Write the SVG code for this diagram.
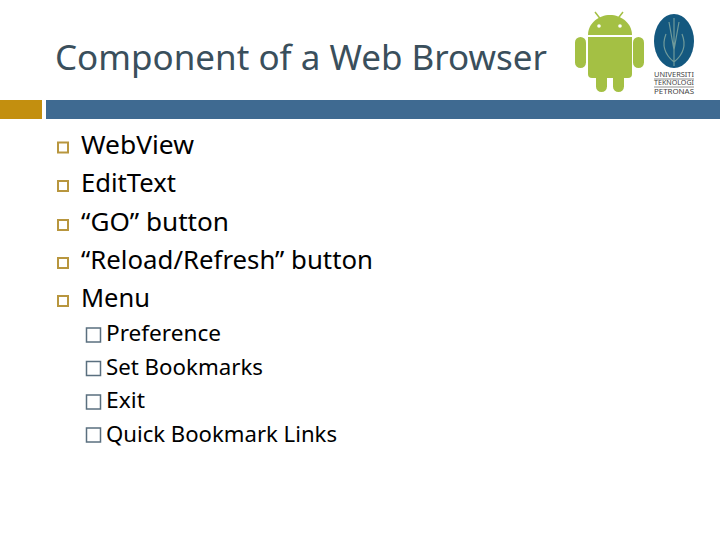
<svg xmlns="http://www.w3.org/2000/svg" width="720" height="540" viewBox="0 0 720 540">
<style>
text{font-family:"Noto Sans","Open Sans","Liberation Sans",sans-serif;fill:#000}
.t{font-size:35px;fill:#3a4f5c}
.a{font-size:26px}
.b{font-size:22px}
.s{font-size:6.2px;fill:#444}
.ba{fill:none;stroke:#b8963e;stroke-width:2}
.bb{fill:none;stroke:#5a6f7f;stroke-width:1.5}
</style>
<rect width="720" height="540" fill="#fff"/>
<text class="t" x="55" y="70" textLength="492" lengthAdjust="spacingAndGlyphs">Component of a Web Browser</text>
<rect x="0" y="100" width="42" height="19" fill="#c38f0f"/>
<rect x="46" y="100" width="674" height="19" fill="#3f6a91"/>
<g id="android" fill="#a4c044">
<path d="M595 12L602 21M623 12L616 21" stroke="#a4c044" stroke-width="1.5"/>
<path d="M588 35C588 23 599 15 610 15C621 15 632 23 632 35Z"/>
<path d="M588 37H632V74a4 4 0 0 1-4 4H592a4 4 0 0 1-4-4Z"/>
<rect x="575" y="37" width="11" height="31" rx="5.5"/>
<rect x="633" y="37" width="11" height="31" rx="5.5"/>
<rect x="596" y="70" width="11" height="22" rx="5.5"/>
<rect x="613" y="70" width="11" height="22" rx="5.5"/>
<circle cx="599" cy="26" r="1.8" fill="#fff"/>
<circle cx="620" cy="26" r="1.8" fill="#fff"/>
</g>
<g id="logo">
<ellipse cx="674" cy="41" rx="20" ry="27" fill="#14587f"/>
<path d="M674 18V66M674 62C664 54 662 44 666 34M674 62C684 54 686 44 682 34M669 22L674 50L679 22" fill="none" stroke="#6f9a9a" stroke-width="1.2"/>
<text class="s" x="654" y="77" textLength="40" lengthAdjust="spacingAndGlyphs">UNIVERSITI</text>
<text class="s" x="654" y="85" textLength="40" lengthAdjust="spacingAndGlyphs">TEKNOLOGI</text>
<text class="s" x="654" y="94" textLength="40" lengthAdjust="spacingAndGlyphs">PETRONAS</text>
<path d="M654 79H694M654 87H694" stroke="#444" stroke-width=".6"/>
</g>
<g id="l1">
<rect class="ba" x="58" y="142.500" width="10" height="10"/>
<rect class="ba" x="58" y="181" width="10" height="10"/>
<rect class="ba" x="58" y="220" width="10" height="10"/>
<rect class="ba" x="58" y="258" width="10" height="10"/>
<rect class="ba" x="58" y="296" width="10" height="10"/>
<text class="a" x="81" y="154" textLength="113" lengthAdjust="spacingAndGlyphs">WebView</text>
<text class="a" x="81" y="192" textLength="95" lengthAdjust="spacingAndGlyphs">EditText</text>
<text class="a" x="81" y="231" textLength="148" lengthAdjust="spacingAndGlyphs">“GO” button</text>
<text class="a" x="81" y="269" textLength="292" lengthAdjust="spacingAndGlyphs">“Reload/Refresh” button</text>
<text class="a" x="81" y="307" textLength="69" lengthAdjust="spacingAndGlyphs">Menu</text>
</g>
<g id="l2">
<rect class="bb" x="86.500" y="328" width="14" height="14"/>
<rect class="bb" x="86.500" y="361.500" width="14" height="14"/>
<rect class="bb" x="86.500" y="395" width="14" height="14"/>
<rect class="bb" x="86.500" y="428" width="14" height="14"/>
<text class="b" x="106" y="341" textLength="115" lengthAdjust="spacingAndGlyphs">Preference</text>
<text class="b" x="106" y="375" textLength="157" lengthAdjust="spacingAndGlyphs">Set Bookmarks</text>
<text class="b" x="106" y="408" textLength="39" lengthAdjust="spacingAndGlyphs">Exit</text>
<text class="b" x="106" y="442" textLength="231" lengthAdjust="spacingAndGlyphs">Quick Bookmark Links</text>
</g>
</svg>
